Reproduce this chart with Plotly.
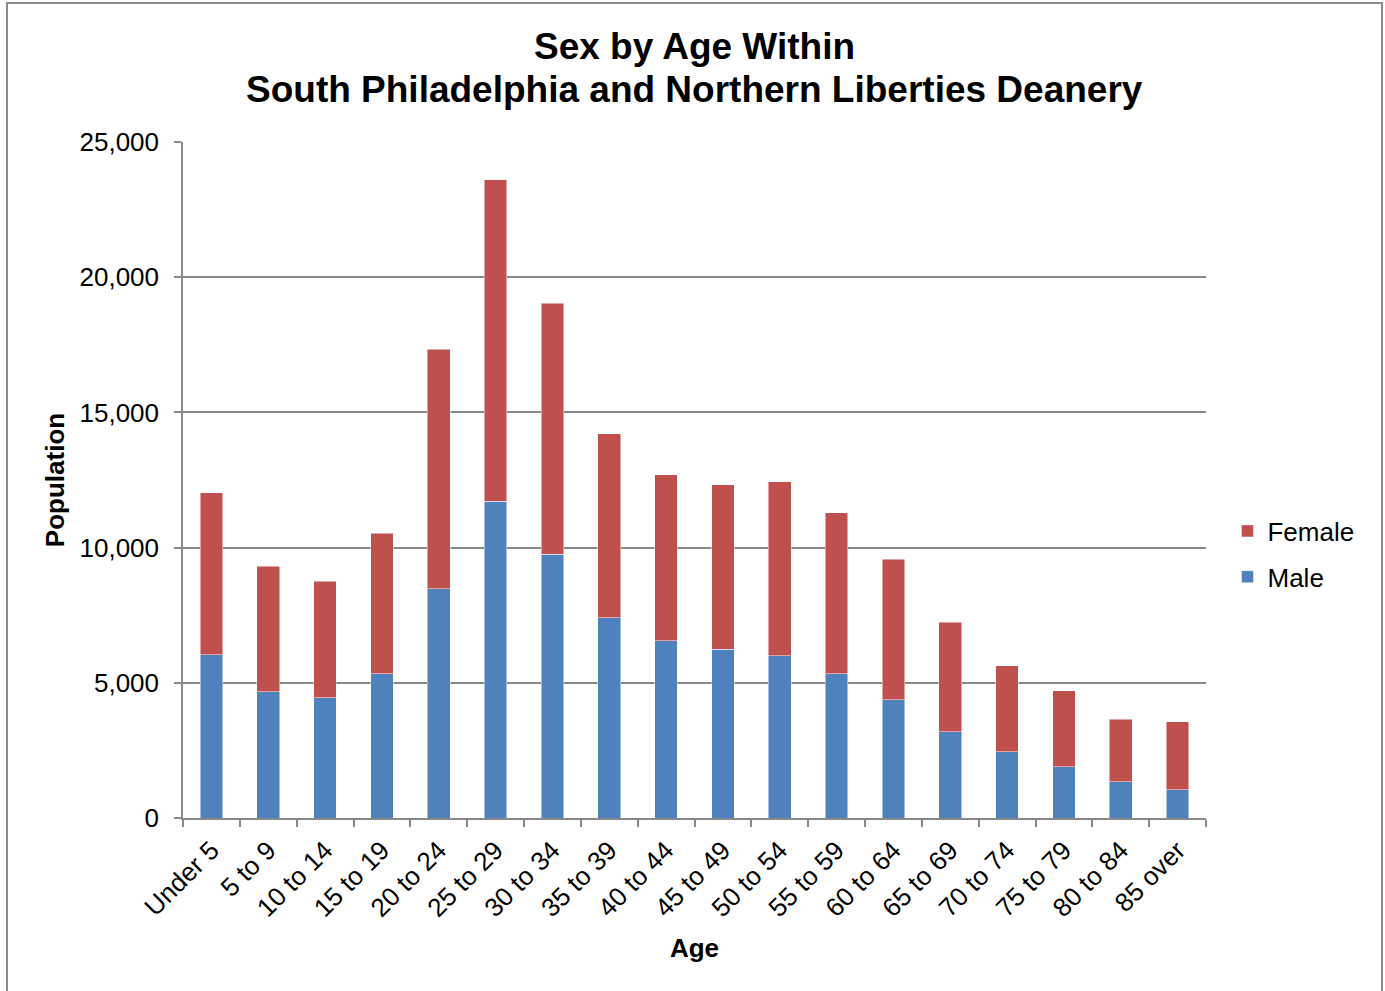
import plotly.graph_objects as go

categories = ["Under 5", "5 to 9", "10 to 14", "15 to 19", "20 to 24", "25 to 29",
              "30 to 34", "35 to 39", "40 to 44", "45 to 49", "50 to 54", "55 to 59",
              "60 to 64", "65 to 69", "70 to 74", "75 to 79", "80 to 84", "85 over"]
male = [6035, 4663, 4448, 5341, 8482, 11706, 9755, 7413, 6561, 6239, 6005, 5337,
        4374, 3188, 2446, 1890, 1347, 1038]
female = [6002, 4646, 4299, 5191, 8846, 11905, 9276, 6795, 6128, 6091, 6424, 5956,
          5189, 4052, 3176, 2817, 2298, 2520]
y_ticks = [0, 5000, 10000, 15000, 20000, 25000]
title_line1 = "Sex by Age Within"
title_line2 = "South Philadelphia and Northern Liberties Deanery"

FONT = "Liberation Sans, Arial, sans-serif"
GRID = "#898989"
W, H = 1385, 991
L, R, T, B = 183, 179, 142, 173
PW, PH = W - L - R, H - T - B

fig = go.Figure()
fig.add_trace(go.Bar(x=categories, y=male, name="Male", legendgroup="m", legendrank=2,
                     marker=dict(color="#4F81BD", line=dict(width=0.8, color="rgba(255,255,255,0.6)"))))
fig.add_trace(go.Bar(x=categories, y=female, name="Female", legendgroup="f", legendrank=1,
                     marker=dict(color="#C0504D", line=dict(width=0.8, color="rgba(255,255,255,0.6)"))))

fig.update_layout(
    width=W, height=H,
    barmode="stack", bargap=0.6,
    plot_bgcolor="white", paper_bgcolor="white",
    margin=dict(l=L, r=R, t=T, b=B, autoexpand=False),
    font=dict(family=FONT, size=26, color="black"),
    title=dict(text="<b>" + title_line1 + "</b>",
               x=0.5, xref="paper", xanchor="center", y=1 - 46 / H, yanchor="middle",
               font=dict(family=FONT, size=37, color="black")),
    annotations=[dict(text="<b>" + title_line2 + "</b>", xref="paper", yref="paper",
                      x=0.5, y=(H - B - 89) / PH, xanchor="center", yanchor="middle",
                      showarrow=False, font=dict(family=FONT, size=37, color="black"))],
    legend=dict(x=1.021, xanchor="left", y=(H - B - 554) / PH, yanchor="middle",
                traceorder="grouped", tracegroupgap=9,
                font=dict(family=FONT, size=26), bgcolor="rgba(0,0,0,0)"),
    xaxis=dict(type="category", showline=True, linecolor=GRID, linewidth=1.5,
               ticks="outside", tickson="boundaries", ticklen=7, tickcolor=GRID, tickwidth=1.5,
               tickangle=-45, tickfont=dict(family=FONT, size=26), ticklabelstandoff=5,
               title=dict(text="<b>Age</b>", font=dict(family=FONT, size=26), standoff=17)),
    yaxis=dict(range=[0, 25000], tickvals=y_ticks, tickformat=",", showgrid=True,
               gridcolor=GRID, gridwidth=1.5, showline=True, linecolor=GRID, linewidth=1.5,
               ticks="outside", ticklen=7, tickcolor=GRID, tickwidth=1.5, zeroline=False,
               tickfont=dict(family=FONT, size=26), ticklabelstandoff=10,
               title=dict(text="<b>Population</b>", font=dict(family=FONT, size=26), standoff=7)),
    shapes=[dict(type="rect", xref="paper", yref="paper",
                 x0=(7 - L) / PW, x1=(1382 - L) / PW,
                 y0=(H - B - 998) / PH, y1=(H - B - 3) / PH,
                 line=dict(color="#8c8c8c", width=2), fillcolor="rgba(0,0,0,0)", layer="below")],
)

fig.write_html("out.html", config={"displayModeBar": False},
               post_script="document.body.style.margin='0';document.body.style.overflow='hidden';")
